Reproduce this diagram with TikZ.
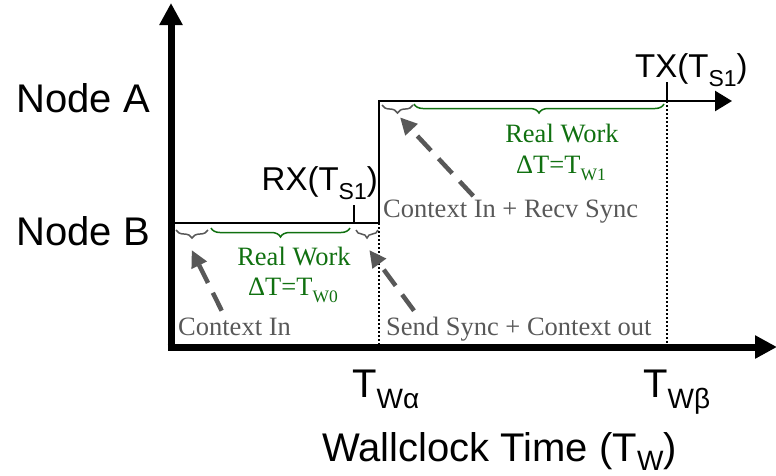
\documentclass[tikz,border=0pt]{standalone}
\usepackage{fontspec}
\setmainfont{Liberation Sans}
\newfontfamily\tmsfont{Liberation Serif}
\usetikzlibrary{arrows.meta,decorations.pathreplacing}
\definecolor{workgreen}{RGB}{16,112,16}
\definecolor{notegrey}{RGB}{88,88,88}
\newcommand{\lowsub}[3]{\raisebox{-#1pt}{\fontsize{#2pt}{#2pt}\selectfont #3}}
\begin{document}
\begin{tikzpicture}[x=1pt,y=-1pt,
  axisline/.style={line width=7pt,-{Triangle[length=22pt,width=22pt]}},
  sigline/.style={line width=2.5pt,line join=miter,-{Triangle[length=17pt,width=20pt]}},
  tickline/.style={line width=2pt},
  guide/.style={line width=2pt,dash pattern=on 2pt off 2pt},
  greybrace/.style={draw=notegrey,line width=1.5pt,decorate,decoration={brace,mirror,amplitude=8pt}},
  greenbrace/.style={draw=workgreen,line width=1.5pt,decorate,decoration={brace,mirror,amplitude=9pt}},
  notearrow/.style={draw=notegrey,line width=4.5pt,dash pattern=on 20pt off 11pt,-{Triangle[length=17pt,width=16pt]}},
  biglabel/.style={inner sep=0pt,font=\fontsize{40pt}{48pt}\selectfont},
  midlabel/.style={inner sep=0pt,font=\fontsize{33pt}{40pt}\selectfont},
  worktext/.style={inner sep=0pt,text=workgreen,font=\tmsfont\fontsize{26.5pt}{32pt}\selectfont},
  notetext/.style={inner sep=0pt,text=notegrey,font=\tmsfont\fontsize{26.5pt}{32pt}\selectfont}]
\useasboundingbox (0,0) rectangle (776,475);

% axes
\coordinate (ycorner) at (171,350.5);
\coordinate (ytip) at (171,3);
\coordinate (xcorner) at (167.5,347);
\coordinate (xtip) at (777,347);
\draw[axisline] (ycorner) -- (ytip);
\draw[axisline] (xcorner) -- (xtip);

% signal path
\coordinate (bstart) at (172,223);
\coordinate (bend) at (379,223);
\coordinate (astart) at (379,101);
\coordinate (atip) at (732,101);
\draw[sigline] (bstart) -- (bend) -- (astart) -- (atip);

% ticks
\coordinate (rxtop) at (354,205);
\coordinate (rxbot) at (354,223);
\coordinate (txtop) at (667,82);
\coordinate (txbot) at (667,101);
\draw[tickline] (rxtop) -- (rxbot);
\draw[tickline] (txtop) -- (txbot);

% dotted guides
\coordinate (galphaT) at (379,223);
\coordinate (galphaB) at (379,344);
\coordinate (gbetaT) at (667,101);
\coordinate (gbetaB) at (667,344);
\draw[guide] (galphaT) -- (galphaB);
\draw[guide] (gbetaT) -- (gbetaB);

% braces
\coordinate (b1l) at (176,230); \coordinate (b1r) at (208,230);
\coordinate (b2l) at (211,228); \coordinate (b2r) at (350,228);
\coordinate (b3l) at (356,230); \coordinate (b3r) at (378,230);
\coordinate (a1l) at (382,105); \coordinate (a1r) at (413,105);
\coordinate (a2l) at (414,104); \coordinate (a2r) at (664,104);
\draw[greybrace] (b1l) -- (b1r);
\draw[greenbrace] (b2l) -- (b2r);
\draw[greybrace] (b3l) -- (b3r);
\draw[greybrace] (a1l) -- (a1r);
\draw[greenbrace] (a2l) -- (a2r);

% labels
\node[biglabel,anchor=base east] (nodeA) at (150,112) {Node A};
\node[biglabel,anchor=base east] (nodeB) at (150,245) {Node B};
\node[midlabel,anchor=base east] (rx) at (378,190) {RX(T\lowsub{9}{23}{S1})};
\node[midlabel,anchor=base west] (tx) at (635,77) {TX(T\lowsub{9}{23}{S1})};
\node[biglabel,anchor=base west] (twa) at (352,397) {T\lowsub{11}{28}{Wα}};
\node[biglabel,anchor=base west] (twb) at (643,397) {T\lowsub{11}{28}{Wβ}};
\node[biglabel,anchor=base west] (wall) at (322,461) {Wallclock Time (T\lowsub{9}{28}{W})};

\node[worktext,anchor=base] (rw0) at (294,265) {Real Work};
\node[worktext,anchor=base] (dt0) at (293,295) {ΔT=T\lowsub{7}{17.5}{W0}};
\node[worktext,anchor=base] (rw1) at (562,142) {Real Work};
\node[worktext,anchor=base] (dt1) at (561,173) {ΔT=T\lowsub{7}{17.5}{W1}};

\node[notetext,anchor=base west] (cin) at (178,335) {Context In};
\node[notetext,anchor=base west] (ssc) at (386,335) {Send Sync + Context out};
\node[notetext,anchor=base west] (cir) at (383,217) {Context In + Recv Sync};

% dashed pointer arrows
\coordinate (p1s) at (221.7,310.7); \coordinate (p1t) at (191.7,250);
\coordinate (p2s) at (414,310.7); \coordinate (p2t) at (369.3,250);
\coordinate (p3s) at (473.3,196); \coordinate (p3t) at (400,117.3);
\draw[notearrow] (p1s) -- (p1t);
\draw[notearrow] (p2s) -- (p2t);
\draw[notearrow] (p3s) -- (p3t);
\end{tikzpicture}
\end{document}
